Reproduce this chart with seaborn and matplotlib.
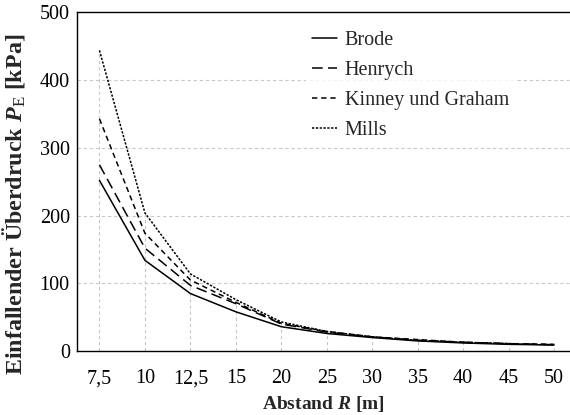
import matplotlib
matplotlib.use("Agg")
import matplotlib.pyplot as plt
import seaborn as sns
import pandas as pd
from matplotlib.ticker import MultipleLocator, FixedLocator

abstand = ["7,5", "10", "12,5", "15", "20", "25", "30", "35", "40", "45", "50"]
brode = [252, 134, 85, 58, 36, 26, 20, 15, 12, 10, 9]
henrych = [275, 152, 97, 70, 40, 28, 21, 16, 13, 11, 9.5]
kinney = [343, 174, 105, 72, 41, 29, 21, 17, 13, 11, 10]
mills = [444, 204, 114, 76, 43, 29, 21, 16, 13, 11, 9]

series = {"Brode": brode, "Henrych": henrych,
          "Kinney und Graham": kinney, "Mills": mills}

sns.set_style("white")
plt.rcParams["font.family"] = ["Liberation Serif", "DejaVu Serif"]
plt.rcParams["mathtext.fontset"] = "custom"
plt.rcParams["mathtext.rm"] = "Liberation Serif"
plt.rcParams["mathtext.it"] = "Liberation Serif:italic"
plt.rcParams["mathtext.bf"] = "Liberation Serif:bold"
plt.rcParams["mathtext.bfit"] = "Liberation Serif:italic:bold"

df = pd.DataFrame([
    {"R": r, "P": v, "Modell": name}
    for name, vals in series.items()
    for r, v in zip(abstand, vals)
])

fig = plt.figure(figsize=(5.7, 4.15), dpi=100)
ax = fig.add_axes([0.1346, 0.154, 0.8654, 0.816])

# drop lines from each category's highest value down to zero
tops = [max(vals) for vals in zip(*series.values())]
ax.vlines(abstand, 0, tops, colors="#c8c8c8", linestyles=(0, (3, 2.5)),
          linewidth=0.8, zorder=1)
for yv in [100, 200, 300, 400]:
    ax.axhline(yv, color="#c8c8c8", linestyle=(0, (3, 2.5)), linewidth=0.8, zorder=0)

dashes = {"Brode": "", "Henrych": (7, 3.5), "Kinney und Graham": (3.5, 2.5),
          "Mills": (1.5, 1.0)}
sns.lineplot(data=df, x="R", y="P", style="Modell", dashes=dashes,
             color="black", linewidth=1.1, sort=False, ax=ax, zorder=3)

ax.set_xlim(-0.5, 10.35)
ax.set_ylim(0, 500)
ax.yaxis.set_major_locator(MultipleLocator(100))
ax.yaxis.set_minor_locator(MultipleLocator(50))
ax.xaxis.set_minor_locator(FixedLocator([i + 0.5 for i in range(-1, 11)]))
ax.tick_params(axis="both", which="both", direction="in", colors="black",
               labelsize=14.5, width=0.8)
ax.tick_params(axis="both", which="major", length=5, pad=13)
ax.tick_params(axis="both", which="minor", length=5)
ax.tick_params(axis="y", which="major", pad=5)

for side in ["left", "bottom", "top"]:
    ax.spines[side].set_color("black")
    ax.spines[side].set_linewidth(1.0)
ax.spines["right"].set_visible(False)

ax.set_xlabel(r"Abstand $\mathbfit{R}$ [m]", fontsize=14, fontweight="bold",
              labelpad=4)
ax.set_ylabel(r"Einfallender Überdruck $\mathbfit{P}_\mathrm{E}$ [kPa]",
              fontsize=17.3, fontweight="bold")
ax.yaxis.set_label_coords(-0.100, 0.434)

leg = ax.legend(title=None, loc="upper left", bbox_to_anchor=(0.445, 0.994),
                frameon=True, fontsize=14.5, handlelength=1.2, handletextpad=0.4,
                labelspacing=0.55, borderpad=0.3)
leg.get_frame().set_facecolor("white")
leg.get_frame().set_edgecolor("white")
leg.set_zorder(5)

fig.savefig("out.png", dpi=100)
